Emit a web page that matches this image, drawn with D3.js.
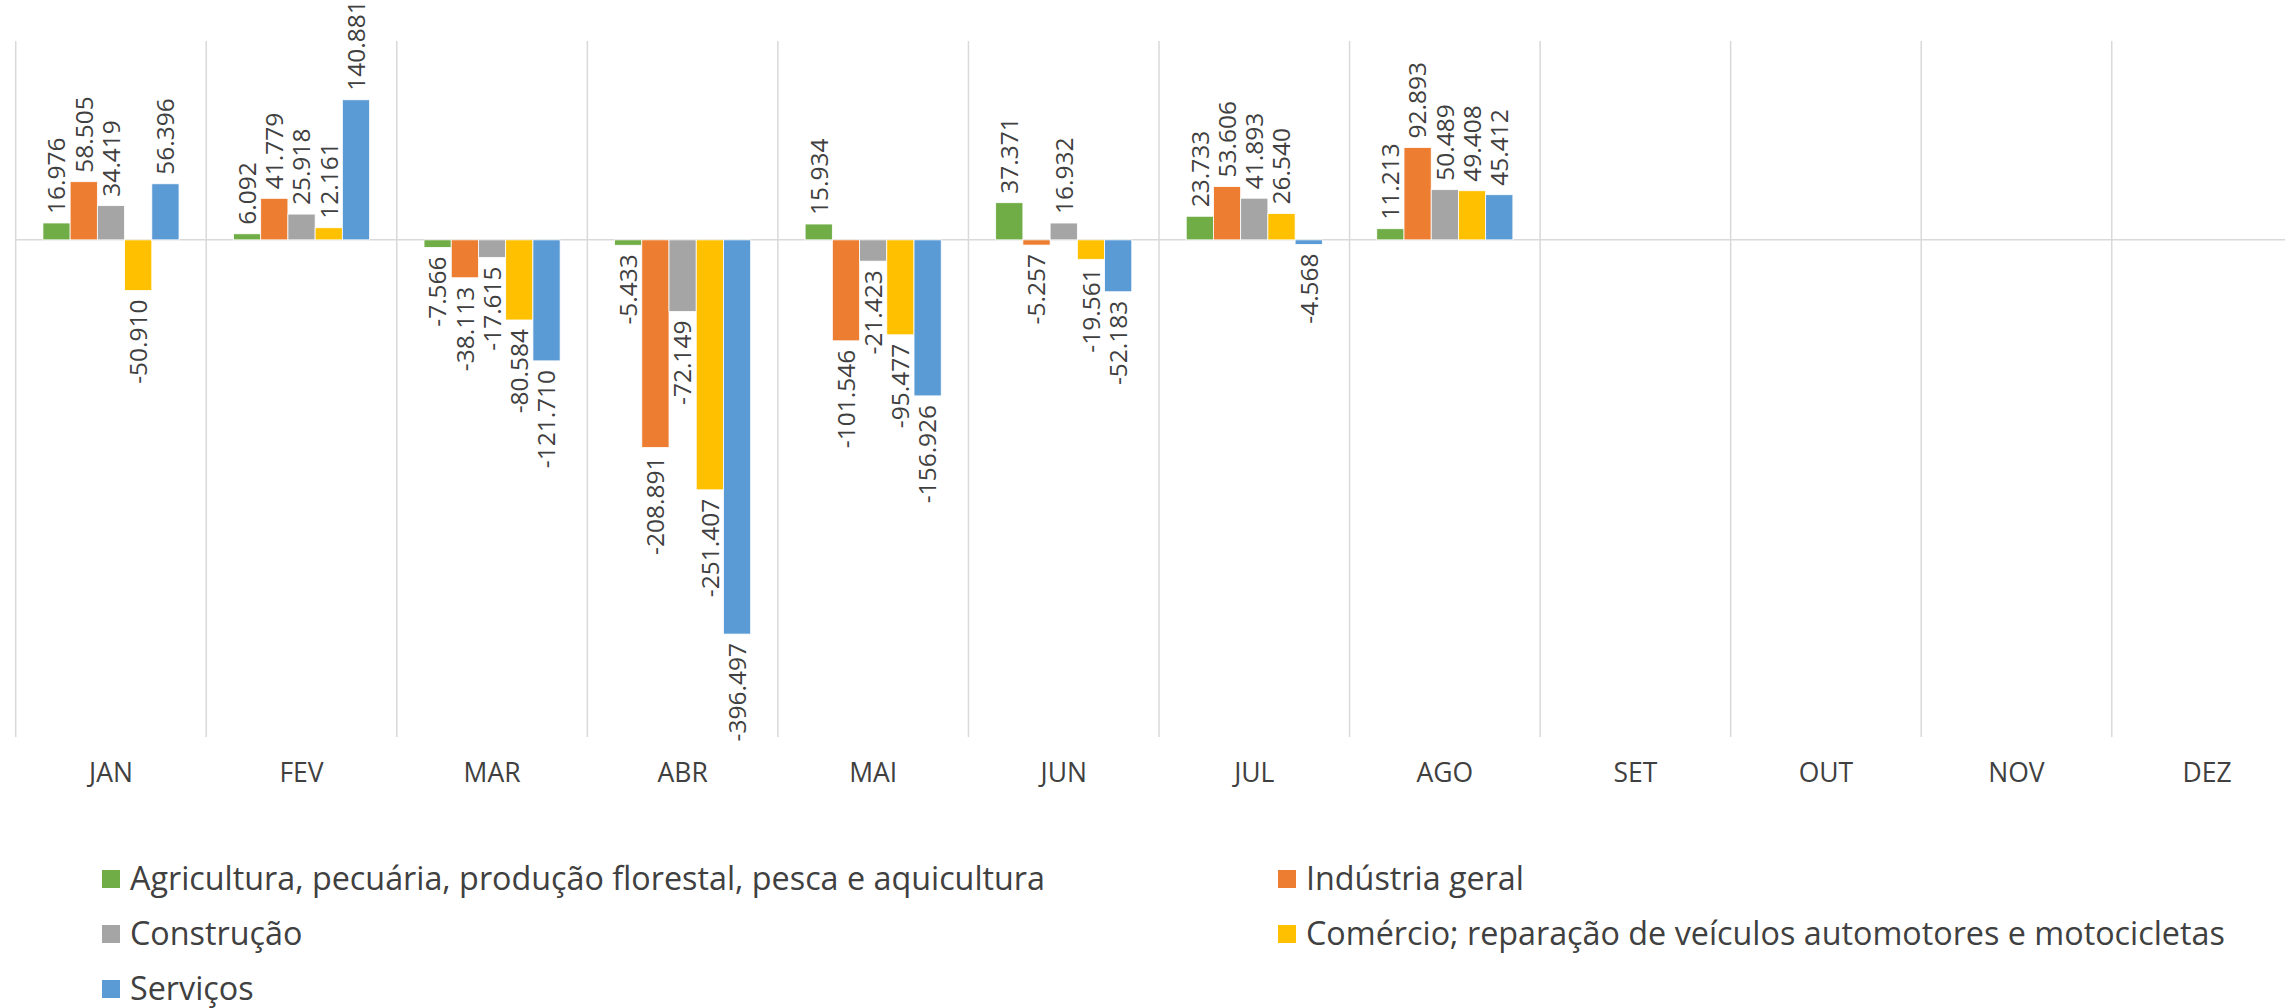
<!DOCTYPE html>
<html>
<head>
<meta charset="utf-8">
<script src="https://cdn.jsdelivr.net/npm/d3@7"></script>
<style>
  html, body { margin: 0; padding: 0; background: #fff; overflow: hidden; }
  svg { display: block; }
  text { font-family: "Open Sans", "Noto Sans", sans-serif; fill: #404040; }
</style>
</head>
<body>
<svg id="chart" width="2285" height="1008"></svg>
<script>
// ---- data ----
const months = ["JAN", "FEV", "MAR", "ABR", "MAI", "JUN", "JUL", "AGO", "SET", "OUT", "NOV", "DEZ"];
const seriesNames = [
  "Agricultura, pecuária, produção florestal, pesca e aquicultura",
  "Indústria geral",
  "Construção",
  "Comércio; reparação de veículos automotores e motocicletas",
  "Serviços"
];
const agricultura = [16976, 6092, -7566, -5433, 15934, 37371, 23733, 11213];
const industria   = [58505, 41779, -38113, -208891, -101546, -5257, 53606, 92893];
const construcao  = [34419, 25918, -17615, -72149, -21423, 16932, 41893, 50489];
const comercio    = [-50910, 12161, -80584, -251407, -95477, -19561, 26540, 49408];
const servicos    = [56396, 140881, -121710, -396497, -156926, -52183, -4568, 45412];
const seriesValues = [agricultura, industria, construcao, comercio, servicos];
const colors = ["#70AD47", "#ED7D31", "#A5A5A5", "#FFC000", "#5B9BD5"];
const yDomain = [-500000, 200000];

// ---- layout ----
const svg = d3.select("#chart");
const plot = { left: 15.7, right: 2302.3, top: 41, bottom: 737 };

const x = d3.scaleBand().domain(months).range([plot.left, plot.right]).padding(0);
const xs = d3.scaleBand().domain(d3.range(seriesNames.length))
  .range([0, x.bandwidth()]).paddingInner(0).paddingOuter(1);
const y = d3.scaleLinear().domain(yDomain).range([plot.bottom, plot.top]);

const locale = d3.formatLocale({ decimal: ",", thousands: ".", grouping: [3], currency: ["R$", ""], minus: "-" });
const fmt = locale.format(",d");

const gridColor = "#d9d9d9";

// vertical category separators
const bounds = months.map(m => x(m)).concat([x(months[months.length - 1]) + x.bandwidth()]);
svg.append("g").selectAll("line").data(bounds).join("line")
  .attr("x1", d => d).attr("x2", d => d)
  .attr("y1", plot.top).attr("y2", plot.bottom)
  .attr("stroke", gridColor).attr("stroke-width", 1.5);

// zero line
svg.append("line")
  .attr("x1", plot.left).attr("x2", plot.right)
  .attr("y1", y(0)).attr("y2", y(0))
  .attr("stroke", gridColor).attr("stroke-width", 1.5);

// bars
const records = [];
seriesValues.forEach((vals, si) => {
  vals.forEach((v, mi) => {
    if (v !== null && v !== undefined) records.push({ si, month: months[mi], v });
  });
});

svg.append("g").selectAll("rect").data(records).join("rect")
  .attr("x", d => x(d.month) + xs(d.si))
  .attr("width", xs.bandwidth())
  .attr("y", d => Math.min(y(d.v), y(0)))
  .attr("height", d => Math.abs(y(d.v) - y(0)))
  .attr("fill", d => colors[d.si])
  .attr("stroke", "#fff").attr("stroke-width", 0.8);

// data labels (rotated)
const labelGap = 9;
svg.append("g").selectAll("text").data(records).join("text")
  .attr("transform", d => {
    const cx = x(d.month) + xs(d.si) + xs.bandwidth() / 2;
    const cy = d.v >= 0 ? y(d.v) - labelGap : y(d.v) + labelGap;
    return `translate(${cx},${cy}) rotate(-90)`;
  })
  .attr("text-anchor", d => d.v >= 0 ? "start" : "end")
  .attr("dy", "0.36em")
  .style("font-size", "24.5px")
  .text(d => fmt(d.v));

// x-axis labels
svg.append("g").selectAll("text").data(months).join("text")
  .attr("x", d => x(d) + x.bandwidth() / 2)
  .attr("y", 782)
  .attr("text-anchor", "middle")
  .style("font-size", "26.5px")
  .text(d => d);

// legend
const legendPos = [
  { x: 102, y: 879 }, { x: 1278, y: 879 },
  { x: 102, y: 934 }, { x: 1278, y: 934 },
  { x: 102, y: 989 }
];
const lg = svg.append("g").selectAll("g").data(seriesNames).join("g")
  .attr("transform", (d, i) => `translate(${legendPos[i].x},${legendPos[i].y})`);
lg.append("rect").attr("x", 0).attr("y", -9).attr("width", 18).attr("height", 18)
  .attr("fill", (d, i) => colors[i]);
lg.append("text").attr("x", 28).attr("dy", "0.35em")
  .style("font-size", "32.3px")
  .text(d => d);
</script>
</body>
</html>
